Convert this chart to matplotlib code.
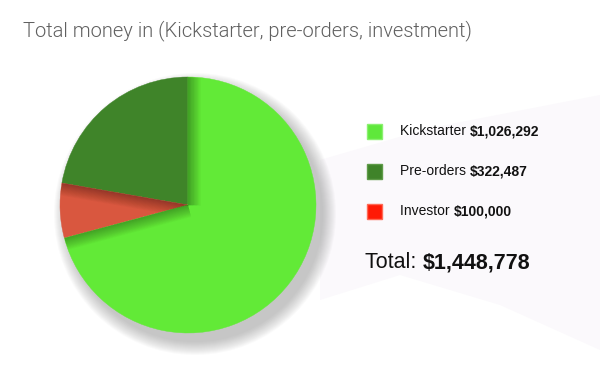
import matplotlib.pyplot as plt
from matplotlib.patches import Circle, Polygon, Rectangle
import numpy as np

# data
categories = ['Kickstarter', 'Pre-orders', 'Investor']
amounts = [1026292, 322487, 100000]
amount_labels = ['$1,026,292', '$322,487', '$100,000']
total_label = '$1,448,778'
pie_colors = ['#62EA37', '#3F8429', '#D9573F']
legend_colors = ['#5FE83B', '#3F8329', '#FF1A05']
legend_edges = ['#8AF070', '#5E9B48', '#FF6A55']

# pie draws counter-clockwise from 12 o'clock: pre-orders, investor, kickstarter
pie_order = [1, 2, 0]

fig = plt.figure(figsize=(6, 3.71), dpi=100)
fig.patch.set_facecolor('white')
ax = fig.add_axes([0, 0, 1, 1])

H = 371
cx, cy, R = 188, H - 205, 128

# faint background shape
ax.add_patch(Polygon([(320, H - 160), (430, H - 128), (600, H - 95), (600, H - 350),
                      (500, H - 305), (400, H - 275), (320, H - 300)],
                     closed=True, facecolor='#FBF9FC', edgecolor='none', zorder=0))

# soft drop shadow under the pie (lower right)
for k in range(14):
    ax.add_patch(Circle((cx + 7, cy - 9), R + 13 - k, facecolor='#707070',
                        edgecolor='none', alpha=0.03, zorder=1))

wedges, _ = ax.pie([amounts[i] for i in pie_order],
                   colors=[pie_colors[i] for i in pie_order],
                   startangle=90, counterclock=True, center=(cx, cy), radius=R,
                   frame=True, wedgeprops=dict(linewidth=0.3, zorder=2))
for w, c in zip(wedges, [pie_colors[i] for i in pie_order]):
    w.set_edgecolor(c)
ax.set_xlim(0, 600)
ax.set_ylim(0, 371)
ax.set_aspect('auto')
ax.axis('off')

# inner shadows along slice boundaries
fracs = np.array([amounts[i] for i in pie_order], dtype=float)
fracs = fracs / fracs.sum()
bounds = 90 + 360 * np.concatenate([[0], np.cumsum(fracs)])
# (boundary angle, wedge receiving the shadow)
shade = [(bounds[0], wedges[2]), (bounds[1], wedges[1]), (bounds[2], wedges[2])]
for ang, w in shade:
    t = np.deg2rad(ang)
    for lw in np.linspace(1, 18, 16):
        ax.plot([cx, cx + R * np.cos(t)], [cy, cy + R * np.sin(t)], color='black',
                lw=lw, alpha=0.018, solid_capstyle='butt', clip_path=w, zorder=3)

# title
ax.text(23, H - 36, 'Total money in (Kickstarter, pre-orders, investment)',
        fontsize=14.5, family='Roboto', fontweight=300, color='#606060', va='baseline')

# legend
baselines = [135, 175, 215]
for i, cat in enumerate(categories):
    yb = H - baselines[i]
    ax.add_patch(Rectangle((367, yb - 4), 15, 15, facecolor=legend_colors[i],
                           edgecolor=legend_edges[i], linewidth=1, zorder=3))
    t = ax.text(400, yb, cat + ' ', fontsize=10, family='Liberation Sans',
                color='#111111', va='baseline')
    ax.annotate(amount_labels[i], xy=(1, 0), xycoords=t, va='bottom',
                fontsize=10, family='Liberation Sans', fontweight='bold', color='#111111')

t = ax.text(365, H - 268, 'Total: ', fontsize=15.5, family='Liberation Sans',
            color='#111111', va='baseline')
ax.annotate(total_label, xy=(1, 0), xycoords=t, va='bottom',
            fontsize=15.5, family='Liberation Sans', fontweight='bold', color='#111111')

plt.savefig('out.png', dpi=100, facecolor='white')
